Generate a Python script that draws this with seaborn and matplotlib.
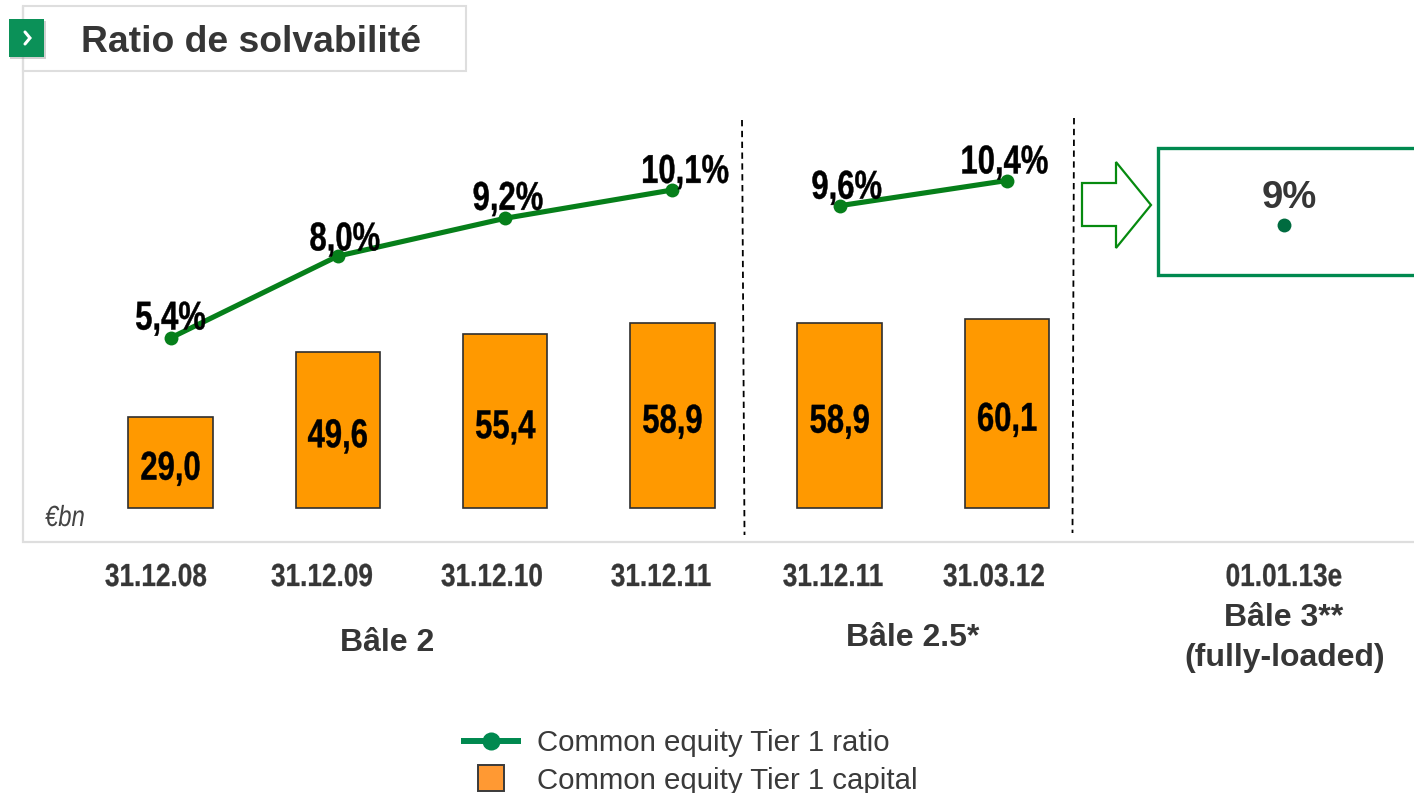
import matplotlib
matplotlib.use("Agg")
import matplotlib.pyplot as plt
from matplotlib.lines import Line2D
from matplotlib.patches import Polygon, Rectangle
from matplotlib.patheffects import AbstractPathEffect
from matplotlib.transforms import Affine2D
import pandas as pd
import seaborn as sns

# Data
dates = ["31.12.08", "31.12.09", "31.12.10", "31.12.11", "31.12.11", "31.03.12", "01.01.13e"]
regimes = ["Bâle 2", "Bâle 2", "Bâle 2", "Bâle 2", "Bâle 2.5", "Bâle 2.5", "Bâle 3"]
capital = [29.0, 49.6, 55.4, 58.9, 58.9, 60.1]
ratio = [5.4, 8.0, 9.2, 10.1, 9.6, 10.4, 9.0]

W, H = 1414, 793
GREY = "#363636"
LINE_GREEN = "#067f1a"
BOX_GREEN = "#00894f"
ORANGE = "#ff9900"


class Squeeze(AbstractPathEffect):
    # the slide uses a narrow bold face that is not installed, so squeeze the glyphs
    def __init__(self, factor, stroke=0.3):
        super().__init__()
        self.factor = factor
        self.stroke = stroke

    def draw_path(self, renderer, gc, tpath, affine, rgbFace=None):
        bb = tpath.get_extents(affine)
        cx = (bb.x0 + bb.x1) / 2
        squeezed = affine + Affine2D().translate(-cx, 0).scale(self.factor, 1).translate(cx, 0)
        gc0 = renderer.new_gc()
        gc0.copy_properties(gc)
        gc0.set_linewidth(self.stroke)
        gc0.set_foreground(rgbFace)
        renderer.draw_path(gc0, tpath, squeezed, rgbFace)
        gc0.restore()


sns.set_theme(style="white")
plt.rcParams["font.family"] = ["Liberation Sans", "DejaVu Sans"]

# Scales: one category = 167.3 px, one bn = 3.145 px, one point of ratio = 31.5 px
X0, DX = 170.5, 167.3
Y0_BAR, PX_BAR = 508, 3.145
Y_RATIO, PX_RATIO = 338, 31.5
positions = list(range(6)) + [(1284 - X0) / DX]

df_bar = pd.DataFrame({"pos": positions[:6], "capital": capital})
df_line = pd.DataFrame({"pos": positions, "ratio": ratio, "regime": regimes})

fig = plt.figure(figsize=(W / 100, H / 100), dpi=100)
ax = fig.add_axes([0, 0, 1, 1])
ax.patch.set_alpha(0)
ax2 = ax.twinx()

sns.barplot(data=df_bar, x="pos", y="capital", native_scale=True, width=0.505,
            color=ORANGE, saturation=1, edgecolor="#2f2f2f", linewidth=1.2, ax=ax)
sns.lineplot(data=df_line, x="pos", y="ratio", hue="regime", estimator=None, sort=False,
             palette={"Bâle 2": LINE_GREEN, "Bâle 2.5": LINE_GREEN, "Bâle 3": "#006b3f"},
             marker="o", markersize=10, markeredgewidth=0, linewidth=3.7, legend=False, ax=ax2)

ax.set_xlim(-X0 / DX, (W - X0) / DX)
ax.set_ylim(-(H - Y0_BAR) / PX_BAR, Y0_BAR / PX_BAR)
ax2.set_ylim(5.4 - (H - Y_RATIO) / PX_RATIO, 5.4 + Y_RATIO / PX_RATIO)
for a in (ax, ax2):
    a.axis("off")

fmt = lambda v: f"{v:.1f}".replace(".", ",")

for x, v in zip(positions, capital):
    ax.annotate(fmt(v), (x, v / 2), xytext=(0, -4.5), textcoords="offset points",
                ha="center", va="center", fontsize=29, fontweight="bold",
                color="black", path_effects=[Squeeze(0.77)])

# label offsets from each ratio point, in points
label_offsets = [(0, 14), (5, 12), (2, 14), (9, 13), (5, 13), (-2, 13)]
for x, v, off in zip(positions, ratio, label_offsets):
    ax2.annotate(fmt(v) + "%", (x, v), xytext=off, textcoords="offset points",
                 ha="center", va="center", fontsize=29, fontweight="bold",
                 color="black", path_effects=[Squeeze(0.77)])

# Overlay in picture pixels for the slide furniture
deco = fig.add_axes([0, 0, 1, 1], zorder=-1)
deco.set_xlim(0, W)
deco.set_ylim(H, 0)
deco.axis("off")
top = fig.add_axes([0, 0, 1, 1], zorder=5)
top.set_xlim(0, W)
top.set_ylim(H, 0)
top.axis("off")
top.patch.set_alpha(0)

LIGHT = "#dedede"
deco.add_patch(Rectangle((23, 6), 443, 65, fc="white", ec=LIGHT, lw=1.5))
deco.plot([23, 23, W], [6, 541.5, 541.5], color=LIGHT, lw=1.6, solid_joinstyle="miter")
top.add_patch(Rectangle((10, 21), 36, 38, fc="#999999", ec="none", alpha=0.45))
top.add_patch(Rectangle((9, 19), 35, 38, fc="#0b9158", ec="none"))
top.plot([25, 30, 25], [32, 38, 44], color="white", lw=2.2, solid_joinstyle="miter")
top.text(81, 42, "Ratio de solvabilité", fontsize=26.8, fontweight="bold", color=GREY,
         ha="left", va="center")

# Regime separators
deco.plot([742, 744.5], [120, 535], color="black", lw=1.3, ls=(0, (3.5, 2.5)))
deco.plot([1074, 1072.5], [118, 533], color="black", lw=1.3, ls=(0, (3.5, 2.5)))

# Arrow and Bale 3 box
deco.add_patch(Polygon([(1082, 183), (1116, 183), (1116, 162), (1151, 205),
                        (1116, 248), (1116, 226), (1082, 226)],
                       closed=True, fc="white", ec="#068a0f", lw=1.6))
deco.plot([W + 5, 1158, 1158, W + 5], [148, 148, 275, 275], color=BOX_GREEN, lw=2.4,
          solid_joinstyle="miter")
top.text(1289, 198, "9%", fontsize=27.5, fontweight="bold", color=GREY, ha="center", va="center")

# Date labels
date_x = [156, 322, 492, 661, 833, 994, 1284]
for x, d in zip(date_x, dates):
    top.text(x, 578, d, fontsize=23, fontweight="bold", color=GREY, ha="center", va="center",
             path_effects=[Squeeze(0.82, stroke=0.2)])

top.text(387, 643, "Bâle 2", fontsize=23, fontweight="bold", color=GREY, ha="center", va="center")
top.text(913, 638, "Bâle 2.5*", fontsize=23, fontweight="bold", color=GREY, ha="center", va="center")
top.text(1284, 618, "Bâle 3**", fontsize=23, fontweight="bold", color=GREY, ha="center", va="center")
top.text(1285, 658, "(fully-loaded)", fontsize=23, fontweight="bold", color=GREY, ha="center", va="center")
top.text(65, 518, "€bn", fontsize=21, style="italic", color="#444444", ha="center", va="center",
         path_effects=[Squeeze(0.82, stroke=0)])

handles = [
    Line2D([], [], color=BOX_GREEN, lw=4.3, marker="o", markersize=13, markeredgewidth=0,
           solid_capstyle="butt"),
    Line2D([], [], color="none", marker="s", markersize=19, markerfacecolor="#ff9933",
           markeredgecolor="#3a3a3a", markeredgewidth=1.4),
]
labels = ["Common equity Tier 1 ratio", "Common equity Tier 1 capital"]
top.legend(handles, labels, loc="center left", bbox_to_anchor=(461, 762),
           bbox_transform=top.transData, frameon=False, fontsize=21.2, labelcolor="#3a3a3a",
           handlelength=2.04, handletextpad=0.54, labelspacing=0.32, borderpad=0, borderaxespad=0)

fig.savefig("out.png", dpi=100)
